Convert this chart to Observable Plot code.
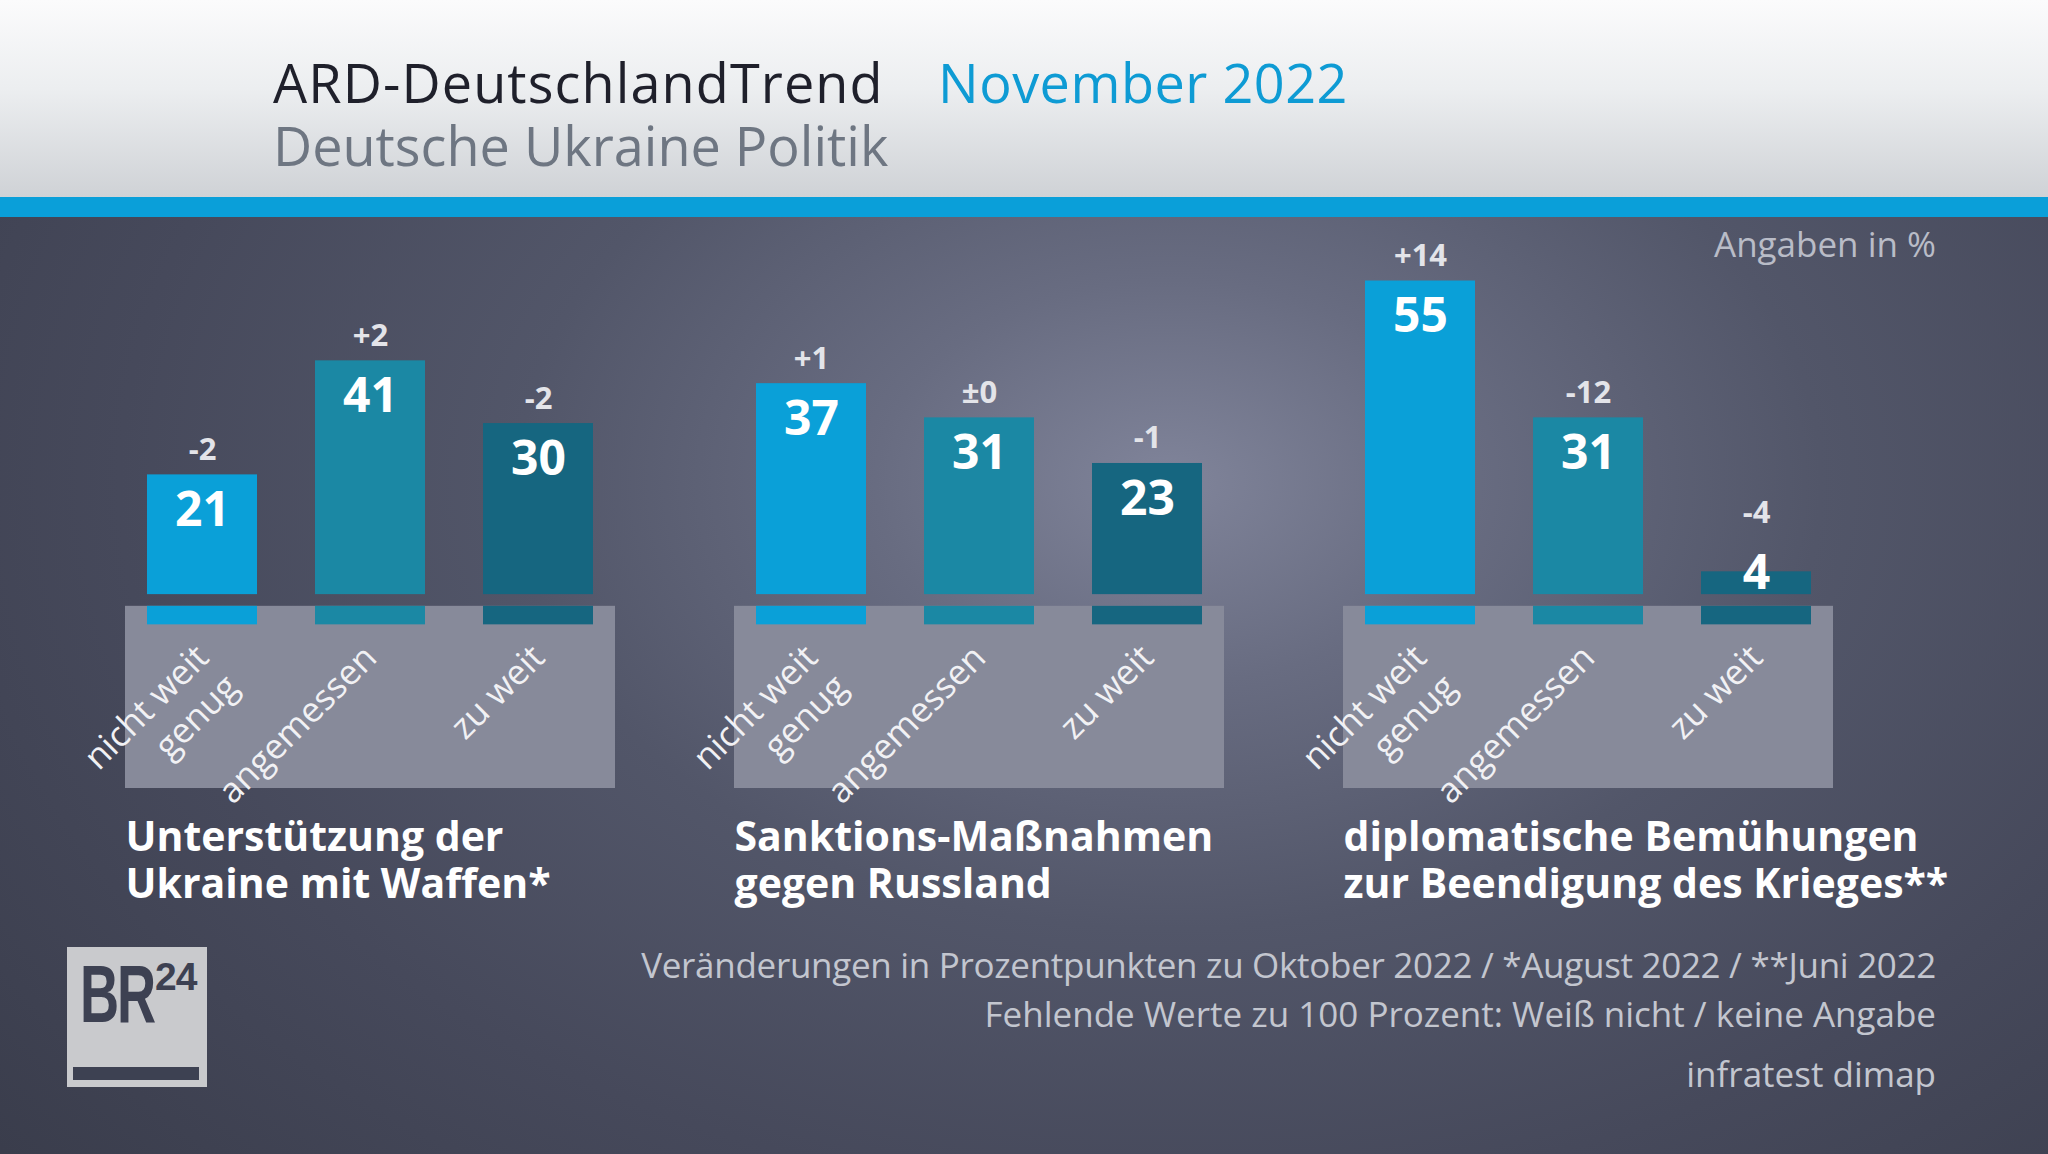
<!DOCTYPE html>
<html>
<head>
<meta charset="utf-8">
<script src="https://cdn.jsdelivr.net/npm/d3@7"></script>
<script src="https://cdn.jsdelivr.net/npm/@observablehq/plot@0.6"></script>
<style>
  html, body { margin: 0; padding: 0; }
  body { width: 2048px; height: 1154px; overflow: hidden; font-family: "Open Sans", "Noto Sans", sans-serif; }
  #page { position: relative; width: 2048px; height: 1154px; overflow: hidden; }
  .abs { position: absolute; white-space: nowrap; line-height: 1; }
  #header { left: 0; top: 0; width: 2048px; height: 197px; background: linear-gradient(#fbfbfc 0%, #eceef0 45%, #cfd2d6 100%); }
  #stripe { left: 0; top: 197px; width: 2048px; height: 20px; background: #0a9fd9; }
  #dark { left: 0; top: 217px; width: 2048px; height: 937px;
    background: radial-gradient(ellipse 1050px 720px at 1170px 265px, #80849a 0%, #686c81 28%, #525669 62%, #46495b 100%, #3a3d4c 145%); }
  #title { left: 273px; top: 55px; font-size: 54px; color: #1f202b; letter-spacing: 1.1px; }
  #month { left: 938px; top: 55px; font-size: 54px; color: #0e9bd4; letter-spacing: 0.5px; }
  #subtitle { left: 273px; top: 118px; font-size: 54px; color: #6e7682; }
  #unit { right: 112px; top: 226px; font-size: 35px; color: #b9bcc7; }
  .note { right: 112px; font-size: 35px; color: #c3c6cf; text-align: right; }
  #chart { left: 0; top: 217px; }
  #logo { left: 67px; top: 947px; width: 140px; height: 140px; background: #c9cacd; }
  #logo .br { position: absolute; left: 13px; top: 6px; font-family: "Liberation Sans", sans-serif; font-weight: bold; font-size: 82px; line-height: 1; color: #3d4152; letter-spacing: -3px; transform: scaleX(0.66); transform-origin: 0 0; }
  #logo .n24 { position: absolute; left: 88px; top: 10px; font-family: "Liberation Sans", sans-serif; font-weight: bold; font-size: 39px; line-height: 1; color: #3d4152; letter-spacing: -1px; }
  #logo .bar { position: absolute; left: 6px; top: 120px; width: 126px; height: 13px; background: #3d4152; }
</style>
</head>
<body>
<div id="page">
  <div id="header" class="abs"></div>
  <div id="stripe" class="abs"></div>
  <div id="dark" class="abs"></div>
  <div id="title" class="abs">ARD-DeutschlandTrend</div>
  <div id="month" class="abs">November 2022</div>
  <div id="subtitle" class="abs">Deutsche Ukraine Politik</div>
  <div id="unit" class="abs">Angaben in %</div>
  <div id="chart" class="abs"></div>
  <div class="abs note" style="top:947px; letter-spacing:-0.3px">Veränderungen in Prozentpunkten zu Oktober 2022 / *August 2022 / **Juni 2022</div>
  <div class="abs note" style="top:996px">Fehlende Werte zu 100 Prozent: Weiß nicht / keine Angabe</div>
  <div class="abs note" style="top:1056px">infratest dimap</div>
  <div id="logo" class="abs"><span class="br">BR</span><span class="n24">24</span><div class="bar"></div></div>
</div>
<script>
// ---- data ----
const groupKeys = ["Waffen", "Sanktionen", "Diplomatie"];
const groupTitles = [
  "Unterstützung der\nUkraine mit Waffen*",
  "Sanktions-Maßnahmen\ngegen Russland",
  "diplomatische Bemühungen\nzur Beendigung des Krieges**"
];
const categories = ["nicht weit\ngenug", "angemessen", "zu weit"];
const valuesWaffen = [21, 41, 30];
const valuesSanktionen = [37, 31, 23];
const valuesDiplomatie = [55, 31, 4];
const changesWaffen = ["-2", "+2", "-2"];
const changesSanktionen = ["+1", "±0", "-1"];
const changesDiplomatie = ["+14", "-12", "-4"];
const barColors = ["#0aa0d8", "#1b88a4", "#166680"];

const allValues = [valuesWaffen, valuesSanktionen, valuesDiplomatie];
const allChanges = [changesWaffen, changesSanktionen, changesDiplomatie];

const rows = groupKeys.flatMap((g, gi) => categories.map((c, ci) => ({
  group: g, title: groupTitles[gi], cat: c,
  value: allValues[gi][ci], change: allChanges[gi][ci]
})));

// label placement: short bars get their labels lifted
const labelY = d => Math.max(d.value, 10);
const boxTop = -2.05, boxBottom = -34, stubBottom = -5.3;

const chart = Plot.plot({
  width: 2048,
  height: 937,
  marginLeft: 125,
  marginRight: 215,
  marginTop: 35,
  marginBottom: 366,
  style: { background: "transparent", fontFamily: "'Open Sans', sans-serif", overflow: "visible" },
  facet: { data: rows, x: "group", label: null },
  fx: { domain: groupKeys, paddingInner: 0.196, paddingOuter: 0, axis: null, label: null },
  x: { domain: categories, paddingInner: 0.347, paddingOuter: 0.127, axis: null },
  y: { domain: [boxBottom, 60], axis: null },
  color: { domain: categories, range: barColors },
  marks: [
    Plot.rect([0], { y1: boxTop, y2: boxBottom, fill: "#878a9a" }),
    Plot.barY(rows, { x: "cat", y: "value", fill: "cat" }),
    Plot.barY(rows, { x: "cat", y1: boxTop, y2: stubBottom, fill: "cat" }),
    Plot.text(rows, { x: "cat", y: labelY, text: d => String(d.value), lineAnchor: "top", dy: 17,
      fill: "white", fontWeight: "bold", fontSize: 48 }),
    Plot.text(rows, { x: "cat", y: labelY, text: "change", lineAnchor: "bottom", dy: -15,
      fill: "#e3e4e9", fontWeight: "bold", fontSize: 31 }),
    Plot.text(rows, { x: "cat", y: 0, text: "cat", rotate: -45, textAnchor: "end", lineAnchor: "top",
      dx: -13, dy: 44, lineHeight: 1.2, fill: "#f1f1f4", fontSize: 35 }),
    Plot.text(rows, { filter: d => d.cat === categories[0], text: "title", frameAnchor: "bottom-left",
      textAnchor: "start", lineAnchor: "top", dy: 29, lineHeight: 1.15, fill: "white", fontWeight: "bold", fontSize: 41 })
  ]
});
document.getElementById("chart").appendChild(chart);
</script>
</body>
</html>
